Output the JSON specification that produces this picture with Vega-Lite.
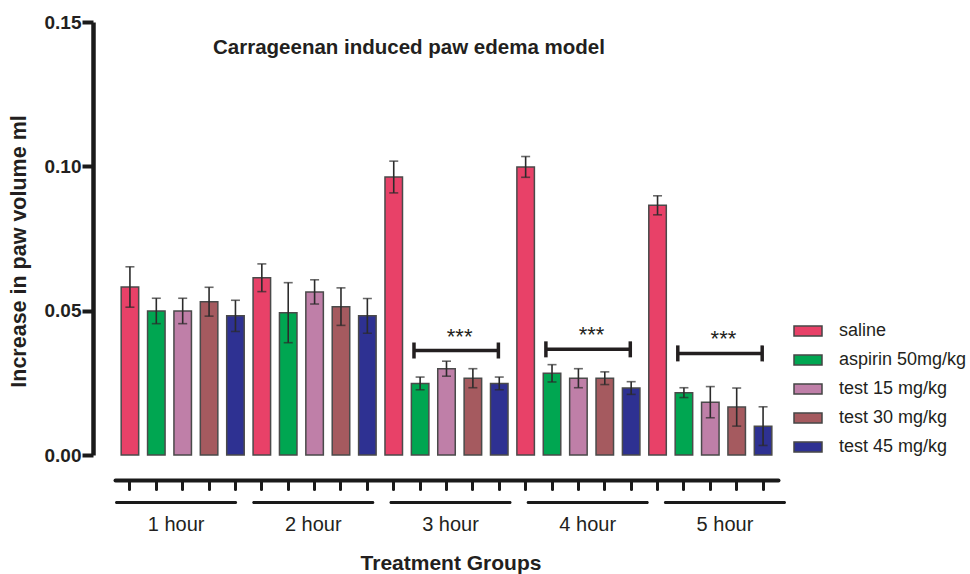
{
  "$schema": "https://vega.github.io/schema/vega-lite/v6.json",
  "background": "white",
  "padding": {"left": 8, "top": 13, "right": 5, "bottom": 5},
  "config": {"font": "Liberation Sans", "view": {"stroke": null}},
  "datasets": {
    "bars": [
      {"hour": "1 hour", "treatment": "saline", "bar": "1 hour / saline", "mean": 0.0582, "sem": 0.0070},
      {"hour": "1 hour", "treatment": "aspirin 50mg/kg", "bar": "1 hour / aspirin", "mean": 0.0499, "sem": 0.0044},
      {"hour": "1 hour", "treatment": "test 15 mg/kg", "bar": "1 hour / test 15", "mean": 0.0499, "sem": 0.0044},
      {"hour": "1 hour", "treatment": "test 30 mg/kg", "bar": "1 hour / test 30", "mean": 0.0531, "sem": 0.0050},
      {"hour": "1 hour", "treatment": "test 45 mg/kg", "bar": "1 hour / test 45", "mean": 0.0482, "sem": 0.0054},
      {"hour": "2 hour", "treatment": "saline", "bar": "2 hour / saline", "mean": 0.0614, "sem": 0.0048},
      {"hour": "2 hour", "treatment": "aspirin 50mg/kg", "bar": "2 hour / aspirin", "mean": 0.0493, "sem": 0.0104},
      {"hour": "2 hour", "treatment": "test 15 mg/kg", "bar": "2 hour / test 15", "mean": 0.0565, "sem": 0.0042},
      {"hour": "2 hour", "treatment": "test 30 mg/kg", "bar": "2 hour / test 30", "mean": 0.0514, "sem": 0.0065},
      {"hour": "2 hour", "treatment": "test 45 mg/kg", "bar": "2 hour / test 45", "mean": 0.0482, "sem": 0.0060},
      {"hour": "3 hour", "treatment": "saline", "bar": "3 hour / saline", "mean": 0.0963, "sem": 0.0055},
      {"hour": "3 hour", "treatment": "aspirin 50mg/kg", "bar": "3 hour / aspirin", "mean": 0.0248, "sem": 0.0022},
      {"hour": "3 hour", "treatment": "test 15 mg/kg", "bar": "3 hour / test 15", "mean": 0.0299, "sem": 0.0026},
      {"hour": "3 hour", "treatment": "test 30 mg/kg", "bar": "3 hour / test 30", "mean": 0.0266, "sem": 0.0033},
      {"hour": "3 hour", "treatment": "test 45 mg/kg", "bar": "3 hour / test 45", "mean": 0.0248, "sem": 0.0022},
      {"hour": "4 hour", "treatment": "saline", "bar": "4 hour / saline", "mean": 0.0998, "sem": 0.0036},
      {"hour": "4 hour", "treatment": "aspirin 50mg/kg", "bar": "4 hour / aspirin", "mean": 0.0283, "sem": 0.0030},
      {"hour": "4 hour", "treatment": "test 15 mg/kg", "bar": "4 hour / test 15", "mean": 0.0266, "sem": 0.0033},
      {"hour": "4 hour", "treatment": "test 30 mg/kg", "bar": "4 hour / test 30", "mean": 0.0266, "sem": 0.0022},
      {"hour": "4 hour", "treatment": "test 45 mg/kg", "bar": "4 hour / test 45", "mean": 0.0232, "sem": 0.0022},
      {"hour": "5 hour", "treatment": "saline", "bar": "5 hour / saline", "mean": 0.0865, "sem": 0.0033},
      {"hour": "5 hour", "treatment": "aspirin 50mg/kg", "bar": "5 hour / aspirin", "mean": 0.0216, "sem": 0.0017},
      {"hour": "5 hour", "treatment": "test 15 mg/kg", "bar": "5 hour / test 15", "mean": 0.0183, "sem": 0.0054},
      {"hour": "5 hour", "treatment": "test 30 mg/kg", "bar": "5 hour / test 30", "mean": 0.0166, "sem": 0.0066},
      {"hour": "5 hour", "treatment": "test 45 mg/kg", "bar": "5 hour / test 45", "mean": 0.0100, "sem": 0.0067}
    ],
    "brackets": [
      {"hour": "3 hour", "from": "3 hour / aspirin", "to": "3 hour / test 45", "mid": "3 hour / test 15", "level": 0.0362, "label": "***"},
      {"hour": "4 hour", "from": "4 hour / aspirin", "to": "4 hour / test 45", "mid": "4 hour / test 15", "level": 0.0366, "label": "***"},
      {"hour": "5 hour", "from": "5 hour / aspirin", "to": "5 hour / test 45", "mid": "5 hour / test 15", "level": 0.0352, "label": "***"}
    ],
    "hours": [
      {"hour": "1 hour"}, {"hour": "2 hour"}, {"hour": "3 hour"}, {"hour": "4 hour"}, {"hour": "5 hour"}
    ]
  },
  "spacing": 46,
  "bounds": "flush",
  "vconcat": [
    {
      "width": 663,
      "height": 433,
      "title": {"text": "Carrageenan induced paw edema model", "anchor": "start", "frame": "group", "fontSize": 20.5, "fontWeight": "bold", "color": "#231f20", "dx": 98, "dy": 61, "offset": 0, "baseline": "alphabetic"},
      "layer": [
        {
          "data": {"name": "bars"},
          "mark": {"type": "bar", "stroke": "#4a4a4a", "strokeWidth": 1.5},
          "encoding": {
            "x": {
              "field": "bar", "type": "nominal", "title": null,
              "scale": {
                "domain": ["1 hour / saline", "1 hour / aspirin", "1 hour / test 15", "1 hour / test 30", "1 hour / test 45",
                           "2 hour / saline", "2 hour / aspirin", "2 hour / test 15", "2 hour / test 30", "2 hour / test 45",
                           "3 hour / saline", "3 hour / aspirin", "3 hour / test 15", "3 hour / test 30", "3 hour / test 45",
                           "4 hour / saline", "4 hour / aspirin", "4 hour / test 15", "4 hour / test 30", "4 hour / test 45",
                           "5 hour / saline", "5 hour / aspirin", "5 hour / test 15", "5 hour / test 30", "5 hour / test 45"],
                "paddingInner": 0.336, "paddingOuter": 0.234
              },
              "axis": {"title": null, "labels": false, "offset": 25, "domainWidth": 4, "domainColor": "#1a1a1a", "domainCap": "round", "tickWidth": 3, "tickSize": 9, "tickColor": "#1a1a1a", "tickCap": "round", "grid": false}
            },
            "y": {
              "field": "mean", "type": "quantitative", "title": "Increase in paw volume ml",
              "scale": {"domain": [0, 0.15], "nice": false},
              "axis": {"values": [0, 0.05, 0.1, 0.15], "format": ".2f", "grid": false, "offset": 22, "domainWidth": 4.5, "domainColor": "#1a1a1a", "tickWidth": 4, "tickSize": 11, "tickColor": "#1a1a1a", "labelFontSize": 19, "labelFontWeight": "bold", "labelColor": "#231f20", "labelPadding": 1, "titleFontSize": 21.5, "titleFontWeight": "bold", "titleColor": "#231f20", "titlePadding": 14, "titleY": 229}
            },
            "color": {
              "field": "treatment", "type": "nominal",
              "scale": {"domain": ["saline", "aspirin 50mg/kg", "test 15 mg/kg", "test 30 mg/kg", "test 45 mg/kg"], "range": ["#E84168", "#00A651", "#BF7FA8", "#A55A5F", "#2E3192"]},
              "legend": {"title": null, "orient": "none", "legendX": 678, "legendY": 294, "symbolType": "M-1,-0.35H1V0.35H-1Z", "symbolSize": 784, "symbolStrokeColor": "#444444", "symbolStrokeWidth": 1.5, "symbolOpacity": 1, "labelFontSize": 18, "labelColor": "#231f20", "labelOffset": 16, "rowPadding": 5, "padding": 0}
            }
          }
        },
        {
          "data": {"name": "bars"},
          "mark": {"type": "errorbar", "ticks": {"size": 9, "thickness": 1.6, "color": "#2b2b2b"}, "rule": {"strokeWidth": 1.6, "color": "#2b2b2b"}},
          "encoding": {
            "x": {"field": "bar", "type": "nominal", "title": null},
            "y": {"field": "mean", "type": "quantitative", "title": "Increase in paw volume ml"},
            "yError": {"field": "sem"}
          }
        },
        {
          "data": {"name": "brackets"},
          "mark": {"type": "rule", "strokeWidth": 3.5, "color": "#231f20"},
          "encoding": {
            "x": {"field": "from", "type": "nominal", "bandPosition": 0.15, "title": null},
            "x2": {"field": "to", "bandPosition": 0.45},
            "y": {"field": "level", "type": "quantitative", "title": "Increase in paw volume ml"}
          }
        },
        {
          "data": {"name": "brackets"},
          "mark": {"type": "tick", "orient": "vertical", "size": 16, "thickness": 3.5, "color": "#231f20", "opacity": 1},
          "encoding": {
            "x": {"field": "from", "type": "nominal", "bandPosition": 0.15, "title": null},
            "y": {"field": "level", "type": "quantitative", "title": "Increase in paw volume ml"}
          }
        },
        {
          "data": {"name": "brackets"},
          "mark": {"type": "tick", "orient": "vertical", "size": 16, "thickness": 3.5, "color": "#231f20", "opacity": 1},
          "encoding": {
            "x": {"field": "to", "type": "nominal", "bandPosition": 0.45, "title": null},
            "y": {"field": "level", "type": "quantitative", "title": "Increase in paw volume ml"}
          }
        },
        {
          "data": {"name": "brackets"},
          "mark": {"type": "text", "fontSize": 22, "color": "#231f20", "baseline": "alphabetic", "dy": -7},
          "encoding": {
            "x": {"field": "mid", "type": "nominal", "bandPosition": 1.25, "title": null},
            "y": {"field": "level", "type": "quantitative", "title": "Increase in paw volume ml"},
            "text": {"field": "label"}
          }
        }
      ]
    },
    {
      "width": 671,
      "height": 3,
      "data": {"name": "hours"},
      "mark": {"type": "bar", "color": "#1a1a1a", "cornerRadius": 1.5},
      "encoding": {
        "x": {
          "field": "hour", "type": "nominal", "sort": null,
          "scale": {"paddingInner": 0.11, "paddingOuter": 0},
          "axis": {"title": "Treatment Groups", "orient": "bottom", "domain": false, "ticks": false, "labelAngle": 0, "labelFontSize": 20, "labelPadding": 10, "labelColor": "#231f20", "titleFontSize": 21, "titleFontWeight": "bold", "titlePadding": 18, "titleColor": "#231f20"}
        }
      }
    }
  ]
}
